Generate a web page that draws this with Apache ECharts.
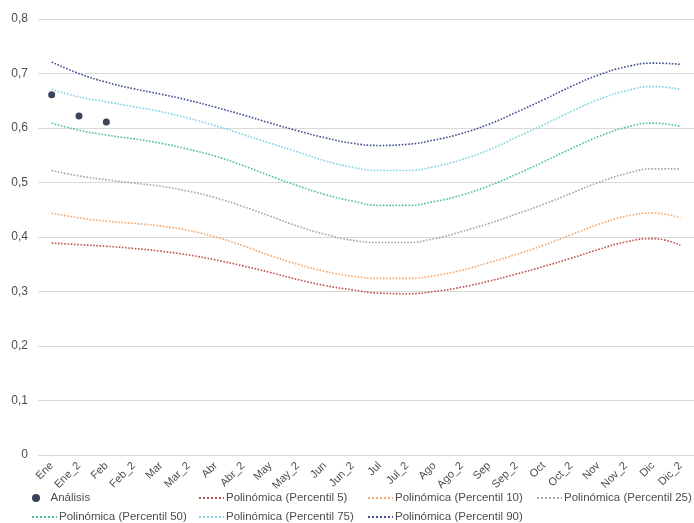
<!DOCTYPE html>
<html>
<head>
<meta charset="utf-8">
<script src="https://cdn.jsdelivr.net/npm/echarts@6/dist/echarts.min.js"></script>
<style>html,body{margin:0;padding:0;background:#fff}#c{width:694px;height:523px}</style>
</head>
<body>
<div id="c"></div>
<script>
var categories = ['Ene','Ene_2','Feb','Feb_2','Mar','Mar_2','Abr','Abr_2','May','May_2','Jun','Jun_2','Jul','Jul_2','Ago','Ago_2','Sep','Sep_2','Oct','Oct_2','Nov','Nov_2','Dic','Dic_2'];
var yTicks = [0, 0.1, 0.2, 0.3, 0.4, 0.5, 0.6, 0.7, 0.8];
var analisis = [0.661, 0.622, 0.611];
var p5  = [0.389,0.386,0.383,0.379,0.374,0.367,0.358,0.347,0.335,0.322,0.311,0.303,0.297,0.296,0.300,0.308,0.319,0.332,0.346,0.361,0.377,0.391,0.397,0.385];
var p10 = [0.444,0.435,0.429,0.425,0.420,0.412,0.400,0.384,0.366,0.350,0.337,0.328,0.324,0.324,0.329,0.339,0.353,0.368,0.385,0.404,0.423,0.438,0.444,0.435];
var p25 = [0.522,0.512,0.505,0.499,0.493,0.484,0.472,0.456,0.438,0.420,0.405,0.394,0.390,0.390,0.397,0.410,0.425,0.442,0.460,0.480,0.500,0.516,0.525,0.525];
var p50 = [0.609,0.596,0.587,0.580,0.572,0.561,0.548,0.531,0.512,0.494,0.478,0.466,0.458,0.458,0.465,0.477,0.494,0.515,0.538,0.562,0.584,0.601,0.609,0.603];
var p75 = [0.671,0.657,0.648,0.639,0.630,0.618,0.604,0.588,0.572,0.556,0.540,0.528,0.522,0.522,0.529,0.542,0.560,0.583,0.606,0.630,0.652,0.668,0.676,0.671];
var p90 = [0.721,0.700,0.684,0.672,0.662,0.651,0.638,0.624,0.609,0.595,0.582,0.572,0.568,0.570,0.578,0.590,0.607,0.629,0.652,0.676,0.697,0.712,0.719,0.717];

var FONT = '"Liberation Sans Narrow","Liberation Sans",Arial,sans-serif';
var TXT = '#4d4d4d';

var lines = [
  {name:'Polinómica (Percentil 5)',  data:p5,  color:'#c0504d'},
  {name:'Polinómica (Percentil 10)', data:p10, color:'#f2a66b'},
  {name:'Polinómica (Percentil 25)', data:p25, color:'#a5a5a5'},
  {name:'Polinómica (Percentil 50)', data:p50, color:'#4dbf9f'},
  {name:'Polinómica (Percentil 75)', data:p75, color:'#7fd0e3'},
  {name:'Polinómica (Percentil 90)', data:p90, color:'#3f4f8f'}
];

var series = [{
  name:'Análisis', type:'scatter', data:analisis, symbol:'circle', symbolSize:7,
  itemStyle:{color:'#0b1530'}, z:5
}].concat(lines.map(function(l){
  return {name:l.name, type:'line', data:l.data, smooth:true, symbol:'none', showSymbol:false,
    lineStyle:{type:'dotted', width:1.6, color:l.color}, itemStyle:{color:l.color}};
}));

var legendPos = [
  {name:'Análisis', left:32, top:492, isLine:false},
  {name:lines[0].name, left:198, top:492, isLine:true},
  {name:lines[1].name, left:367, top:492, isLine:true},
  {name:lines[2].name, left:536, top:492, isLine:true},
  {name:lines[3].name, left:31, top:511, isLine:true},
  {name:lines[4].name, left:198, top:511, isLine:true},
  {name:lines[5].name, left:367, top:511, isLine:true}
];
var legends = legendPos.map(function(p){
  var lg = {data:[p.name], left:p.left, top:p.top, itemWidth:25, itemHeight:8, itemGap:0, padding:0,
    textStyle:{fontFamily:FONT, fontSize:11.5, color:TXT, padding:[0,0,0,-3]}};
  if (p.isLine) { lg.itemStyle = {opacity:0}; }
  return lg;
});

var chart = echarts.init(document.getElementById('c'));
chart.setOption({
  animation:false,
  backgroundColor:'#fff',
  grid:{left:38, right:0, top:19, bottom:68, containLabel:false},
  legend:legends,
  xAxis:{type:'category', data:categories, boundaryGap:true,
    axisLine:{show:false}, axisTick:{show:false},
    axisLabel:{rotate:45, interval:0, margin:9, fontFamily:FONT, fontSize:11, color:TXT}},
  yAxis:{type:'value', min:yTicks[0], max:yTicks[yTicks.length-1], interval:0.1,
    axisLine:{show:false}, axisTick:{show:false},
    splitLine:{lineStyle:{color:'#d9d9d9', width:1}},
    axisLabel:{margin:10, fontFamily:FONT, fontSize:12, color:TXT,
      formatter:function(v){ return v===0 ? '0' : v.toFixed(1).replace('.', ','); }}},
  series:series
});
</script>
</body>
</html>
